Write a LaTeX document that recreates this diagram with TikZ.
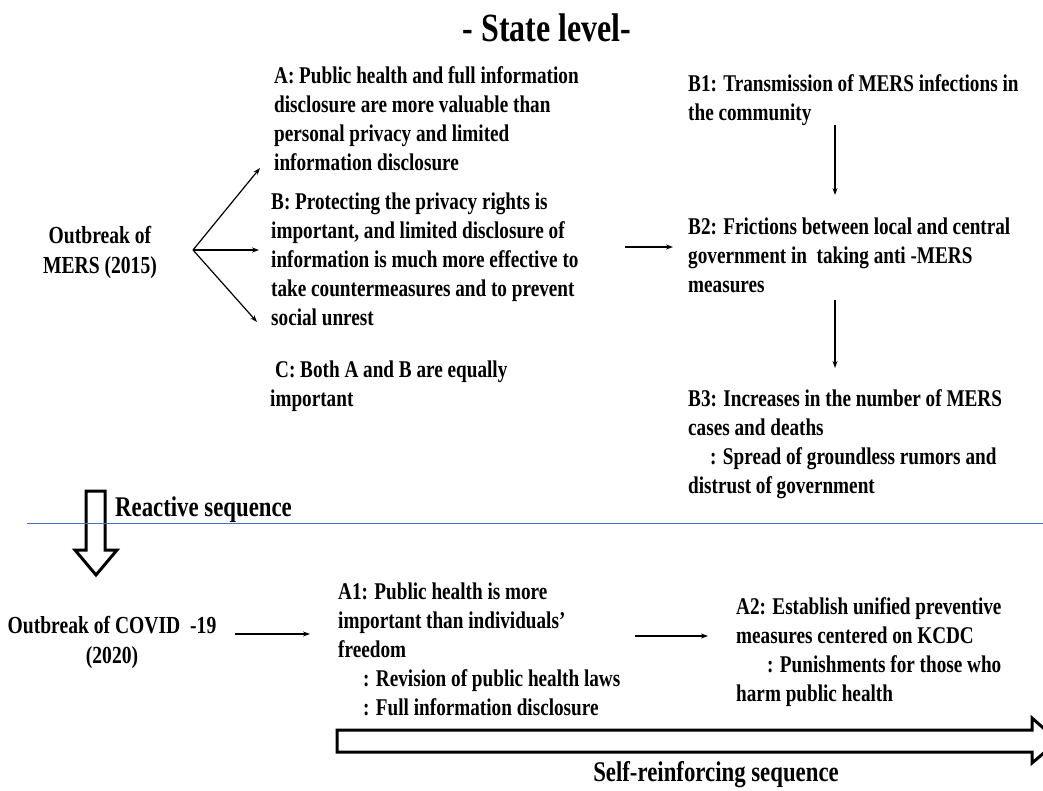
\documentclass[tikz,border=0pt]{standalone}
\usepackage{fontspec}
\setmainfont{Liberation Serif}[FakeStretch=0.8]
\usetikzlibrary{arrows.meta}
\definecolor{sepblue}{HTML}{4472C4}
\begin{document}
\begin{tikzpicture}[x=1pt,y=-1pt,
  txt/.style={anchor=north west, inner sep=0pt, align=left, font=\bfseries\fontsize{24}{29}\selectfont},
  ctr/.style={inner sep=0pt, align=center, font=\bfseries\fontsize{24.5}{30}\selectfont},
  arr/.style={-{Stealth[length=7pt,width=5pt]}, line width=1.2pt},
  hollow/.style={draw, line width=3pt, line join=miter}]
\useasboundingbox (0,0) rectangle (1043,791);
\clip (0,0) rectangle (1043,791);

\node[font=\bfseries\fontsize{40}{44}\selectfont, inner sep=0pt] (title) at (547,28) {- State level-};

\node[ctr] (mers) at (100,252) {Outbreak of\\MERS (2015)};

\node[txt] (A) at (274,66) {A: Public health and full information\\disclosure are more valuable than\\personal privacy and limited\\information disclosure};
\node[txt] (B) at (271,193) {B: Protecting the privacy rights is\\important, and limited disclosure of\\information is much more effective to\\take countermeasures and to prevent\\social unrest};
\node[txt] (C) at (270,361) {\hspace*{5pt}C: Both A and B are equally\\important};

\node[txt] (B1) at (688,74) {B1: Transmission of MERS infections in\\the community};
\node[txt] (B2) at (688,218) {B2: Frictions between local and central\\government in\ \ taking anti -MERS\\measures};
\node[txt] (B3) at (688,389) {B3: Increases in the number of MERS\\cases and deaths\\\hspace*{22pt}: Spread of groundless rumors and\\distrust of government};

\coordinate (f0) at (193,250);
\coordinate (fA) at (260,168);
\coordinate (fB) at (259,250);
\coordinate (fC) at (257,322);
\draw[arr] (f0) -- (fA);
\draw[arr] (f0) -- (fB);
\draw[arr] (f0) -- (fC);

\coordinate (bs) at (625,247);
\coordinate (be) at (673,247);
\draw[arr] (bs) -- (be);
\coordinate (b1s) at (835,125);
\coordinate (b1e) at (835,195);
\draw[arr] (b1s) -- (b1e);
\coordinate (b2s) at (835,300);
\coordinate (b2e) at (835,368);
\draw[arr] (b2s) -- (b2e);

% reactive arrow
\draw[hollow] (86,491) -- (105,491) -- (105,550) -- (117,550) -- (96,575) -- (75,550) -- (86,550) -- cycle;
\draw[sepblue, line width=0.9pt] (27,523) -- (1043,523);
\node[anchor=west, inner sep=0pt, font=\bfseries\fontsize{28.5}{32}\selectfont] (react) at (115,510) {Reactive sequence};

\node[ctr] (covid) at (112,642) {Outbreak of COVID\ \ -19\\(2020)};
\node[txt] (A1) at (338,583) {A1: Public health is more\\important than individuals'\\freedom\\\hspace*{25pt}: Revision of public health laws\\\hspace*{25pt}: Full information disclosure};
\node[txt] (A2) at (736,597) {A2: Establish unified preventive\\measures centered on KCDC\\\hspace*{31pt}: Punishments for those who\\harm public health};

\coordinate (cs) at (235,634);
\coordinate (ce) at (310,634);
\draw[arr] (cs) -- (ce);
\coordinate (as) at (635,636);
\coordinate (ae) at (708,636);
\draw[arr] (as) -- (ae);

\draw[hollow] (337,730) -- (1032,730) -- (1032,718) -- (1058,741) -- (1032,763) -- (1032,752) -- (337,752) -- cycle;
\node[inner sep=0pt, font=\bfseries\fontsize{28.5}{32}\selectfont] (self) at (716,775) {Self-reinforcing sequence};
\end{tikzpicture}
\end{document}
